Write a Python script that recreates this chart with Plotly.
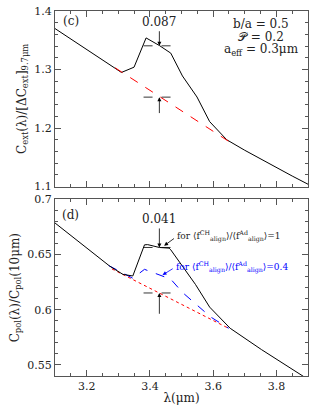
import plotly.graph_objects as go

# ---- panel (c): extinction ----
lam_ext = [3.10, 3.20, 3.298, 3.31, 3.35, 3.378, 3.388, 3.43, 3.466, 3.503, 3.549, 3.589, 3.643, 3.70, 3.753, 3.80, 3.85, 3.90]
ext = [1.370, 1.334, 1.299, 1.295, 1.304, 1.340, 1.354, 1.341, 1.328, 1.289, 1.253, 1.211, 1.180, 1.162, 1.146, 1.133, 1.118, 1.104]
lam_ext_cont = [3.29, 3.65]
ext_cont = [1.303, 1.177]

# ---- panel (d): polarization ----
lam_pol = [3.10, 3.20, 3.273, 3.315, 3.346, 3.383, 3.393, 3.43, 3.461, 3.466, 3.503, 3.544, 3.589, 3.654, 3.753, 3.80, 3.85, 3.90]
pol_1 = [0.6786, 0.656, 0.6395, 0.632, 0.6306, 0.6588, 0.6590, 0.6564, 0.6558, 0.6543, 0.6395, 0.623, 0.6024, 0.5832, 0.5639, 0.555, 0.546, 0.537]
lam_pol04 = [3.27, 3.29, 3.346, 3.383, 3.398, 3.44, 3.466, 3.503, 3.55, 3.592, 3.649]
pol_04 = [0.640, 0.637, 0.6285, 0.6366, 0.635, 0.6306, 0.6277, 0.6157, 0.6039, 0.5935, 0.5832]
lam_pol_cont = [3.28, 3.65]
pol_cont = [0.637, 0.583]

# feature-strength markers
lam_feat = 3.43
ext_feat_top, ext_feat_base = 1.3405, 1.2528
pol_feat_top, pol_feat_base = 0.6564, 0.6152
feat_half_width = 0.05

FONT = "DejaVu Serif"
INK = "#222"
FRAME = "#555"

fig = go.Figure()
fig.add_trace(go.Scatter(x=lam_ext, y=ext, mode="lines", line=dict(color="black", width=1), xaxis="x", yaxis="y"))
fig.add_trace(go.Scatter(x=lam_ext_cont, y=ext_cont, mode="lines", line=dict(color="red", width=1, dash="dash"), xaxis="x", yaxis="y"))
fig.add_trace(go.Scatter(x=lam_pol_cont, y=pol_cont, mode="lines", line=dict(color="red", width=1, dash="dot"), xaxis="x2", yaxis="y2"))
fig.add_trace(go.Scatter(x=lam_pol04, y=pol_04, mode="lines", line=dict(color="blue", width=1, dash="dash"), xaxis="x2", yaxis="y2"))
fig.add_trace(go.Scatter(x=lam_pol, y=pol_1, mode="lines", line=dict(color="black", width=1), xaxis="x2", yaxis="y2"))

shapes = []
for xr, yr, yv in [("x", "y", ext_feat_top), ("x", "y", ext_feat_base), ("x2", "y2", pol_feat_top), ("x2", "y2", pol_feat_base)]:
    shapes.append(dict(type="line", xref=xr, yref=yr, x0=lam_feat - feat_half_width, x1=lam_feat + feat_half_width,
                       y0=yv, y1=yv, line=dict(color="black", width=0.8, dash="dash")))

ann = []
def arrow(xr, yr, x, y, ax, ay, color="black"):
    ann.append(dict(xref=xr, yref=yr, axref=xr, ayref=yr, x=x, y=y, ax=ax, ay=ay, text="", showarrow=True,
                    arrowhead=2, arrowsize=1, arrowwidth=0.8, arrowcolor=color))

def text(xr, yr, x, y, t, color=INK, xanchor="center", size=12):
    ann.append(dict(xref=xr, yref=yr, x=x, y=y, text=t, showarrow=False, xanchor=xanchor, yanchor="middle",
                    borderpad=0, font=dict(family=FONT, size=size, color=color)))

arrow("x", "y", lam_feat, ext_feat_top, lam_feat, 1.368)
arrow("x", "y", lam_feat, ext_feat_base, lam_feat, 1.223)
arrow("x2", "y2", lam_feat, pol_feat_top, lam_feat, 0.675)
arrow("x2", "y2", lam_feat, pol_feat_base, lam_feat, 0.595)
arrow("x2", "y2", 3.445, 0.658, 3.481, 0.6655)
arrow("x2", "y2", 3.44, 0.6315, 3.477, 0.638, color="blue")

text("x", "y", lam_feat, 1.381, "0.087")
text("x2", "y2", lam_feat, 0.6825, "0.041")
text("x", "y", 3.15, 1.383, "(c)")
text("x2", "y2", 3.15, 0.686, "(d)")
text("x", "y", 3.752, 1.378, "b/a = 0.5")
text("x", "y", 3.752, 1.356, "𝒫 = 0.2")
text("x", "y", 3.752, 1.333, "a<sub>eff</sub> = 0.3μm")
text("x2", "y2", 3.484, 0.6665, "for ⟨f<sup>CH</sup><sub>align</sub>⟩/⟨f<sup>Ad</sup><sub>align</sub>⟩=1", xanchor="left", size=9)
text("x2", "y2", 3.481, 0.6385, "for ⟨f<sup>CH</sup><sub>align</sub>⟩/⟨f<sup>Ad</sup><sub>align</sub>⟩=0.4", color="blue", xanchor="left", size=9)

axis_common = dict(showgrid=False, zeroline=False, showline=True, linecolor=FRAME, linewidth=1, mirror="ticks",
                   ticks="inside", ticklen=6, tickcolor=FRAME, tickfont=dict(family=FONT, size=11, color=INK))

fig.update_layout(
    width=314, height=411,
    margin=dict(l=55, r=5, t=6, b=35),
    paper_bgcolor="white", plot_bgcolor="white",
    showlegend=False,
    shapes=shapes, annotations=ann,
    xaxis=dict(**axis_common, range=[3.1, 3.9], dtick=0.2, showticklabels=False, anchor="y",
               minor=dict(dtick=0.05, ticks="inside", ticklen=3, tickcolor=FRAME)),
    yaxis=dict(**axis_common, range=[1.1, 1.4], dtick=0.1, domain=[0.519, 1.0], anchor="x",
               minor=dict(dtick=0.02, ticks="inside", ticklen=3, tickcolor=FRAME),
               title=dict(text="C<sub>ext</sub>(λ)/[ΔC<sub>ext</sub>]<sub>9.7μm</sub>", font=dict(family=FONT, size=12, color=INK), standoff=5)),
    xaxis2=dict(**axis_common, range=[3.1, 3.9], dtick=0.2, anchor="y2", tickformat=".1f",
                minor=dict(dtick=0.05, ticks="inside", ticklen=3, tickcolor=FRAME),
                title=dict(text="λ(μm)", font=dict(family=FONT, size=12, color=INK), standoff=1)),
    yaxis2=dict(**axis_common, range=[0.54, 0.70], tickvals=[0.55, 0.6, 0.65, 0.7], ticktext=["0.55", "0.6", "0.65", "0.7"],
                domain=[0.0, 0.484], anchor="x2",
                minor=dict(dtick=0.01, ticks="inside", ticklen=3, tickcolor=FRAME),
                title=dict(text="C<sub>pol</sub>(λ)/C<sub>pol</sub>(10μm)", font=dict(family=FONT, size=12, color=INK), standoff=5)),
)

fig.write_html("out.html", config={"displayModeBar": False},
               post_script="document.body.style.margin='0';document.body.style.overflow='hidden';")
